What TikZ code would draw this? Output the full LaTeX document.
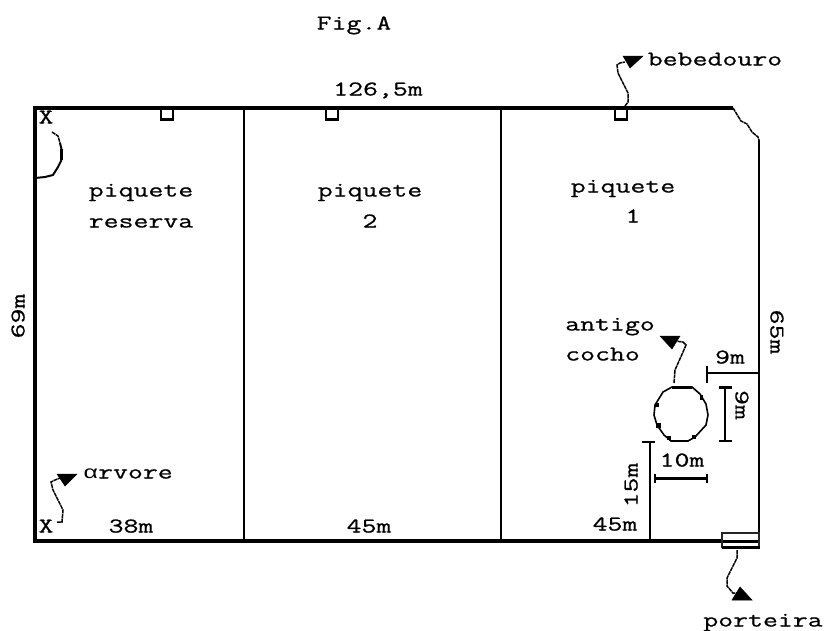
\documentclass[tikz,border=0pt]{standalone}
\usepackage{fontspec}
\newfontfamily\oldmono[FakeStretch=1.38,FakeBold=0.7]{Latin Modern Mono}
\newfontfamily\oldalpha[FakeStretch=1.38]{Liberation Mono}
\begin{document}
\begin{tikzpicture}[x=1pt,y=-1pt,
  lbl/.style={inner sep=0pt,font=\oldmono\fontsize{21}{21}\selectfont,text=black,text height=10pt,text depth=3pt},
  wall/.style={line width=4pt,line cap=butt},
  thinline/.style={line width=2pt},
  midline/.style={line width=1.6pt},
  squig/.style={line width=1.5pt,dash pattern=on 4pt off 0.6pt},
  headfill/.style={fill=black,draw=black,line width=.5pt,line join=miter}]
\useasboundingbox (0,0) rectangle (826,630);
\fill[white] (0,0) rectangle (826,630);
% reference points
\coordinate (tl) at (35,108);
\coordinate (tr) at (733,108);
\coordinate (bl) at (35,541);
\coordinate (rt) at (759,140);
\coordinate (rb) at (759,548);
\coordinate (d1t) at (244,108); \coordinate (d1b) at (244,541);
\coordinate (d2t) at (501,108); \coordinate (d2b) at (501,541);
% walls
\draw[wall] (33,108) -- (tr);
\draw[wall] (35,106) -- (bl) -- (722,541);
\draw[wall,line width=3pt] (722,541) -- (759,541);
\draw[thinline] (d1t) -- (d1b);
\draw[thinline] (d2t) -- (d2b);
\draw[thinline] (rt) -- (rb);
\draw[squig] (tr) -- (741,121) -- (747,124) -- (752,132) -- (758,137) -- (rt);
% troughs
\foreach \n/\x in {a/161,b/326,c/615}{
  \draw[line width=1.5pt] (\x,108) -- (\x,120);
  \draw[line width=1.5pt] (\x+12,108) -- (\x+12,120);
  \draw[line width=3pt] (\x-.7,119) -- (\x+12.7,119);
}
% gate
\draw[line width=1.2pt,draw=black!85] (722,533) rectangle (759,547);
\draw[line width=3pt] (722,547) -- (760,547);
% corner arc
\coordinate (arcs) at (52,132);
\coordinate (arce) at (35,178);
\draw[squig] (arcs) -- (58,136) -- (60,143);
\draw[line width=3pt] (61.5,149) -- (61.5,160);
\draw[line width=2pt] (60,143) -- (61.5,149) (61.5,160) -- (58,167) -- (53,175) -- (45,177) -- (arce);
% old trough circle
\draw[line width=1.6pt] (672,387) -- (692,387) -- (700,394) -- (706,404) -- (708,415) -- (706,425) -- (695,437) -- (688,441) -- (671,441) -- (664,435) -- (657,425) -- (654,415) -- (655,405) -- (663,392) -- cycle;
\draw[line width=3pt] (672,387) -- (692,387);
\fill (655,403) rectangle (659,407);
\fill (656,423) rectangle (661,428);
\fill (667,436) rectangle (671,440);
\fill (692,435) rectangle (696,439);
\fill (700,395) rectangle (703,400);
% dimension lines
\coordinate (d9a) at (707,373); \coordinate (d9b) at (759,373);
\draw[midline] (d9a) -- (d9b);
\draw[midline] (707,366) -- (707,383);
\coordinate (v9a) at (725,387); \coordinate (v9b) at (725,441);
\draw[midline] (v9a) -- (v9b);
\draw[line width=3pt] (719,387.5) -- (732,387.5);
\draw[midline] (719,441) -- (732,441);
\coordinate (h10a) at (655,478); \coordinate (h10b) at (707,478);
\draw[line width=3pt] (h10a) -- (h10b);
\draw[midline] (655,474) -- (655,483);
\draw[midline] (707,474) -- (707,483);
\coordinate (h15a) at (650,442); \coordinate (h15b) at (650,541);
\draw[midline] (h15a) -- (h15b);
\draw[midline] (642,442) -- (655,442);
% pointers
\coordinate (pb0) at (625,106); \coordinate (pb1) at (625,62);
\draw[squig] (pb0) -- (628,102) -- (628,93) -- (618,73) -- (617,65) -- (620,63) -- (pb1);
\fill[headfill] (623,56) -- (643,56) -- (630,68) -- cycle;
\coordinate (pa0) at (674,383); \coordinate (pa1) at (675,341);
\draw[squig] (pa0) -- (675,370) -- (683,352) -- (686,345) -- (683,342) -- (pa1);
\fill[headfill] (660,336) -- (680,336) -- (672,349) -- cycle;
\coordinate (pg0) at (737,550); \coordinate (pg1) at (738,593);
\draw[squig] (pg0) -- (737,558) -- (727,578) -- (727,586) -- (733,593) -- (pg1);
\fill[headfill] (732,600) -- (752,600) -- (740,587) -- cycle;
\coordinate (pv0) at (57,522); \coordinate (pv1) at (60,478);
\draw[squig] (pv0) -- (62,522) -- (63,510) -- (53,490) -- (51,482) -- (55,480) -- (pv1);
\fill[headfill] (57,474) -- (77,474) -- (65,486) -- cycle;
% labels
\node[lbl] (fig) at (354,26) {Fig.A};
\node[lbl] (top) at (378,92) {126,5m};
\node[lbl] (beb) at (715,62) {bebedouro};
\node[lbl] (p1a) at (141,193) {piquete};
\node[lbl] (p1b) at (141,224) {reserva};
\node[lbl] (p2a) at (370,193) {piquete};
\node[lbl] (p2b) at (370,224) {2};
\node[lbl] (p3a) at (623,189) {piquete};
\node[lbl] (p3b) at (633,219) {1};
\node[lbl,anchor=west] (ant) at (565,327) {antigo};
\node[lbl,anchor=west] (coc) at (565,357) {cocho};
\node[lbl] (x1) at (46,120) {X};
\node[lbl] (x2) at (46,529) {X};
\node[lbl] (arv) at (128,475) {{\oldalpha\fontsize{18}{18}\selectfont α}rvore};
\node[lbl] (m38) at (131,529) {38m};
\node[lbl] (m45a) at (369,529) {45m};
\node[lbl] (m45b) at (615,527) {45m};
\node[lbl] (m10) at (682,463) {10m};
\node[lbl] (m9) at (730,360) {9m};
\node[lbl,rotate=-90] (m9v) at (739,405) {9m};
\node[lbl,rotate=-90] (m65) at (774,332) {65m};
\node[lbl,rotate=90] (m69) at (21,316) {69m};
\node[lbl,rotate=90] (m15) at (634,485) {15m};
\node[lbl] (por) at (763,623) {porteira};
\end{tikzpicture}
\end{document}
